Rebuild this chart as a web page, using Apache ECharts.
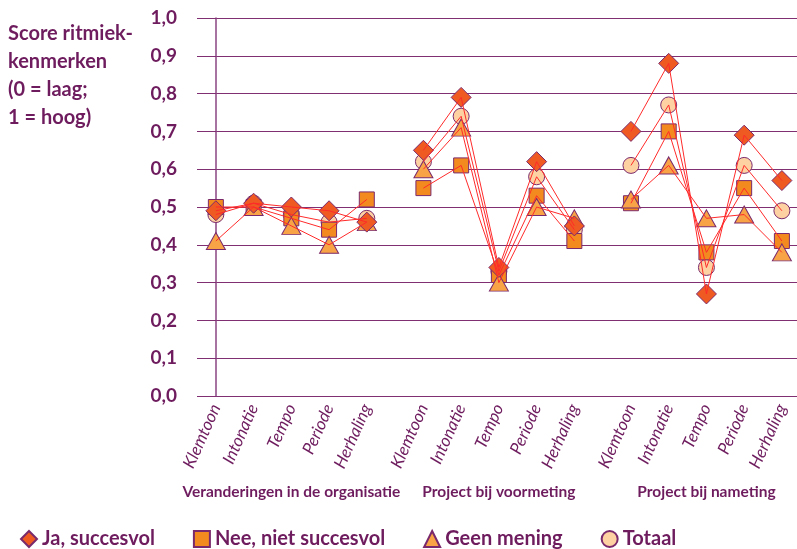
<!DOCTYPE html>
<html>
<head>
<meta charset="utf-8">
<script src="https://cdn.jsdelivr.net/npm/echarts@6/dist/echarts.min.js"></script>
<style>
  html, body { margin: 0; padding: 0; background: #fff; }
  #chart { width: 797px; height: 549px; }
</style>
</head>
<body>
<div id="chart"></div>
<script>
// categories and groups
const categories = ['Klemtoon', 'Intonatie', 'Tempo', 'Periode', 'Herhaling'];
const groups = ['Veranderingen in de organisatie', 'Project bij voormeting', 'Project bij nameting'];
const xPositions = [0, 1, 2, 3, 4, 5.5, 6.5, 7.5, 8.5, 9.5, 11, 12, 13, 14, 15];
const tickLabels = categories.concat(categories, categories);

// series values, 5 per group
const jaSuccesvol = [0.49, 0.51, 0.50, 0.49, 0.46, 0.65, 0.79, 0.34, 0.62, 0.45, 0.70, 0.88, 0.27, 0.69, 0.57];
const neeNietSuccesvol = [0.50, 0.50, 0.47, 0.44, 0.52, 0.55, 0.61, 0.32, 0.53, 0.41, 0.51, 0.70, 0.38, 0.55, 0.41];
const geenMening = [0.41, 0.50, 0.45, 0.40, 0.46, 0.60, 0.71, 0.30, 0.50, 0.47, 0.52, 0.61, 0.47, 0.48, 0.38];
const totaal = [0.48, 0.51, 0.48, 0.46, 0.47, 0.62, 0.74, 0.33, 0.58, 0.44, 0.61, 0.77, 0.34, 0.61, 0.49];

const purple = '#6e1c5e';
const font = 'Lato';

const seriesDefs = [
  { name: 'Totaal', values: totaal, symbol: 'circle', size: 16, color: '#fdd1a2', z: 2 },
  { name: 'Nee, niet succesvol', values: neeNietSuccesvol, symbol: 'rect', size: 15, color: '#f38a20', z: 3 },
  { name: 'Geen mening', values: geenMening, symbol: 'triangle', size: [19, 17], color: '#f8a446', z: 4 },
  { name: 'Ja, succesvol', values: jaSuccesvol, symbol: 'diamond', size: 20, color: '#ee5a22', z: 5 }
];

// points for the markers
const points = vals => vals.map((v, i) => [xPositions[i], v]);
// same points, with a break between the groups so each group gets its own line
const linePoints = vals => {
  const out = [];
  vals.forEach((v, i) => {
    out.push([xPositions[i], v]);
    if (i === 4 || i === 9) out.push([xPositions[i] + 0.75, '-']);
  });
  return out;
};

const series = [];
seriesDefs.forEach(d => {
  series.push({
    name: d.name,
    type: 'scatter',
    symbol: d.symbol,
    symbolSize: d.size,
    z: d.z,
    itemStyle: { color: d.color, borderColor: '#7a2a6c', borderWidth: 1, opacity: 1 },
    data: points(d.values)
  });
});
seriesDefs.forEach(d => {
  series.push({
    name: d.name,
    type: 'line',
    showSymbol: false,
    connectNulls: false,
    z: 10,
    lineStyle: { color: '#ff2a2a', width: 1 },
    data: linePoints(d.values)
  });
});

const chart = echarts.init(document.getElementById('chart'));

const option = {
  animation: false,
  grid: { left: 197, right: 0, top: 18, bottom: 153, containLabel: false },
  legend: {
    left: 15,
    top: 524,
    itemWidth: 16,
    itemHeight: 16,
    itemGap: 38,
    textStyle: { color: purple, fontSize: 20, fontWeight: 'bold', fontFamily: font },
    data: [
      { name: 'Ja, succesvol', icon: 'diamond' },
      { name: 'Nee, niet succesvol', icon: 'rect' },
      { name: 'Geen mening', icon: 'triangle' },
      { name: 'Totaal', icon: 'circle' }
    ]
  },
  xAxis: {
    type: 'value',
    min: -0.5,
    max: 15.4,
    interval: 0.5,
    axisLine: { show: false },
    axisTick: { show: false },
    splitLine: { show: false },
    axisLabel: {
      rotate: 66,
      margin: 9,
      color: purple,
      fontSize: 17,
      fontStyle: 'italic',
      fontFamily: font,
      showMaxLabel: false,
      formatter: v => {
        const i = xPositions.findIndex(p => Math.abs(p - v) < 1e-6);
        return i < 0 ? '' : tickLabels[i];
      }
    }
  },
  yAxis: {
    type: 'value',
    min: 0,
    max: 1,
    interval: 0.1,
    axisLine: { show: true, lineStyle: { color: '#8a4580', width: 1.5 } },
    axisTick: { show: true, length: 8, lineStyle: { color: '#7f2f72', width: 1 } },
    splitLine: { show: true, lineStyle: { color: '#7f2f72', width: 1 } },
    axisLabel: {
      margin: 20,
      color: purple,
      fontSize: 19,
      fontWeight: 'bold',
      fontFamily: font,
      formatter: v => v.toFixed(1).replace('.', ',')
    }
  },
  series: series
};

chart.setOption(option);

// title and group labels
const groupCenters = [2, 7.5, 13];
const graphic = [{
  type: 'text',
  left: 8,
  top: 20,
  style: {
    text: 'Score ritmiek-\nkenmerken\n(0 = laag;\n1 = hoog)',
    fill: purple,
    font: 'bold 20px ' + font,
    lineHeight: 28
  }
}];
groups.forEach((g, i) => {
  const px = chart.convertToPixel({ xAxisIndex: 0 }, groupCenters[i]);
  graphic.push({
    type: 'text',
    x: px,
    y: 492,
    style: {
      text: g,
      fill: purple,
      font: 'bold 15.5px ' + font,
      align: 'center',
      verticalAlign: 'middle'
    }
  });
});
chart.setOption({ graphic: graphic });
</script>
</body>
</html>
